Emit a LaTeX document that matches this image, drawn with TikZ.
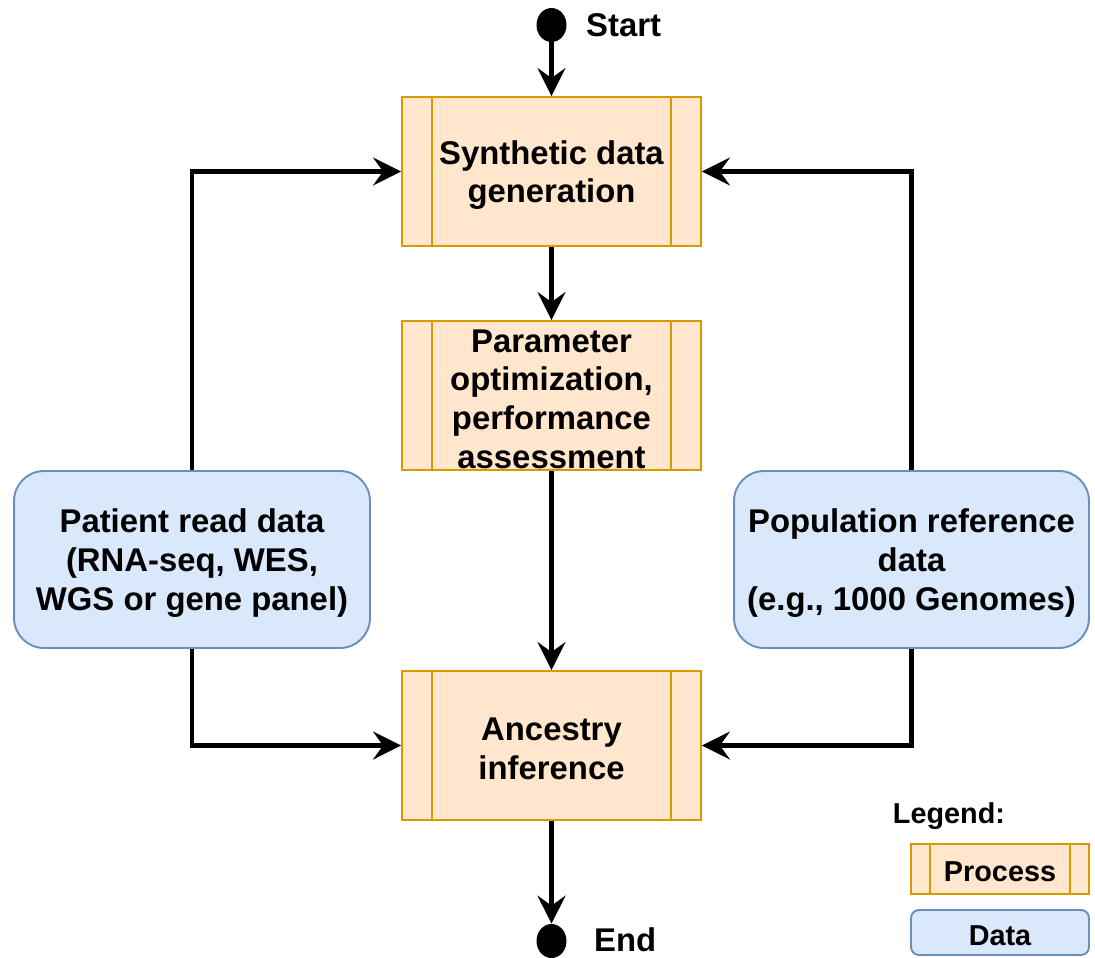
\documentclass[tikz,border=0pt]{standalone}
\usepackage{fontspec}
\setmainfont{Liberation Sans}
\usetikzlibrary{arrows.meta,shapes.geometric}
\definecolor{procfill}{HTML}{FFE6CC}
\definecolor{procstroke}{HTML}{D79B00}
\definecolor{datafill}{HTML}{DAE8FC}
\definecolor{datastroke}{HTML}{6C8EBF}
\begin{document}
\begin{tikzpicture}[x=0.02cm,y=-0.02cm,
  txt/.style={font=\fontsize{18.7}{22}\selectfont\bfseries, align=center},
  ltxt/.style={font=\fontsize{16.4}{19.5}\selectfont\bfseries, align=center},
  intext/.style={label={[txt, yshift=-0.07cm]center:{#1}}},
  inltext/.style={label={[ltxt, yshift=-0.06cm]center:{#1}}},
  process/.style={draw=procstroke, fill=procfill, line width=1.1pt, inner sep=0pt,
    path picture={\draw[procstroke, line width=1.1pt]
      ([xshift=#1]path picture bounding box.north west) -- ([xshift=#1]path picture bounding box.south west)
      ([xshift=-#1]path picture bounding box.north east) -- ([xshift=-#1]path picture bounding box.south east);}},
  process/.default=0.6cm,
  datab/.style={draw=datastroke, fill=datafill, line width=1.1pt, inner sep=0pt},
  dot/.style={ellipse, fill=black, minimum width=0.6cm, minimum height=0.68cm, inner sep=0pt},
  arr/.style={line width=2.3pt, -{Stealth[length=0.56cm, width=0.56cm, inset=0.2cm]}}
]
\useasboundingbox (0,0) rectangle (1095,957);

\node[dot] (start) at (551.5,25) {};
\node[txt, anchor=west] (starttxt) at (580,25) {Start};

\node[process, intext={Synthetic data\\generation}, minimum width=5.98cm, minimum height=2.98cm] (syn) at (551.5,171.5) {};
\node[process, intext={Parameter\\optimization,\\performance\\assessment}, minimum width=5.98cm, minimum height=2.98cm] (par) at (551.5,395.5) {};
\node[process, intext={Ancestry\\inference}, minimum width=5.98cm, minimum height=2.98cm] (anc) at (551.5,745.5) {};

\node[datab, intext={Patient read data\\(RNA-seq, WES,\\WGS or gene panel)}, rounded corners=0.6cm, minimum width=7.12cm, minimum height=3.54cm] (pat) at (192,559.5) {};
\node[datab, intext={Population reference\\data\\(e.g., 1000 Genomes)}, rounded corners=0.6cm, minimum width=7.1cm, minimum height=3.54cm] (pop) at (911.5,559.5) {};

\node[dot] (end) at (551.5,941) {};
\node[txt, anchor=west] (endtxt) at (588,940) {End};

\draw[arr] (start) -- (syn);
\draw[arr] (syn) -- (par);
\draw[arr] (par) -- (anc);
\draw[arr] (anc) -- (end);
\draw[arr] (pat.north) |- (syn.west);
\draw[arr] (pat.south) |- (anc.west);
\draw[arr] (pop.north) |- (syn.east);
\draw[arr] (pop.south) |- (anc.east);

\node[ltxt] (legend) at (949,816) {Legend:};
\node[process=0.38cm, inltext={Process}, minimum width=3.56cm, minimum height=1cm] (lproc) at (1000,869) {};
\node[datab, inltext={Data}, rounded corners=0.16cm, minimum width=3.56cm, minimum height=0.9cm] (ldata) at (1000,932.5) {};
\end{tikzpicture}
\end{document}
